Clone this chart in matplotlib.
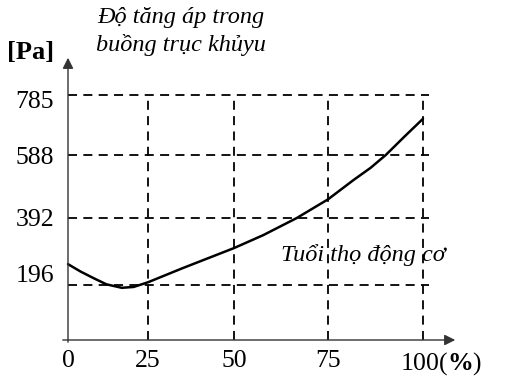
import numpy as np
import matplotlib.pyplot as plt
from matplotlib.transforms import ScaledTranslation

# engine life (%) vs crankcase pressure rise (Pa)
life = [0, 4, 8, 12, 16.8, 20.5, 25, 35, 50, 57.8, 66.7, 75, 81.7, 86.2, 90.2, 95, 100]
pressure = [257, 235, 216, 198, 186, 189, 204, 245, 304, 342, 392, 450, 510, 548, 588, 647, 707]

x_ticks = [0, 25, 50, 75, 100]
x_labels = ['0', '25', '50', '75', r'100($\mathbf{\%}$)']
y_ticks = [196, 392, 588, 785]
y_labels = ['196', '392', '588', '785']


# the hand-drawn axes are not evenly spaced, so map values through a piecewise scale
def piecewise(vals, pos):
        vals = np.asarray(vals, float)
        pos = np.asarray(pos, float)

        def f(v):
                v = np.asarray(v, float)
                out = np.interp(v, vals, pos)
                lo = pos[0] + (v - vals[0]) * (pos[1] - pos[0]) / (vals[1] - vals[0])
                hi = pos[-1] + (v - vals[-1]) * (pos[-1] - pos[-2]) / (vals[-1] - vals[-2])
                out = np.where(v < vals[0], lo, out)
                out = np.where(v > vals[-1], hi, out)
                return out
        return f


x_fwd = piecewise([0, 25, 50, 75, 100], [68, 148, 234, 328, 423])
x_inv = piecewise([68, 148, 234, 328, 423], [0, 25, 50, 75, 100])
y_fwd = piecewise([0, 196, 392, 588, 785], [39, 94, 161, 224, 284])
y_inv = piecewise([39, 94, 161, 224, 284], [0, 196, 392, 588, 785])

plt.rcParams['font.family'] = ['Liberation Serif', 'DejaVu Serif']
plt.rcParams['mathtext.fontset'] = 'custom'
plt.rcParams['mathtext.rm'] = 'Liberation Serif'
plt.rcParams['mathtext.bf'] = 'Liberation Serif:bold'

fig = plt.figure(figsize=(5.08, 3.79), dpi=100)
ax = fig.add_axes([0, 0, 1, 1])
ax.set_xscale('function', functions=(x_fwd, x_inv))
ax.set_yscale('function', functions=(y_fwd, y_inv))
ax.set_xlim(float(x_inv(0)), float(x_inv(508)))
ax.set_ylim(float(y_inv(0)), float(y_inv(379)))
for s in ax.spines.values():
        s.set_visible(False)

dash = dict(color='black', lw=1.3, ls=(0, (5, 3.5)))
for y in y_ticks:
        ax.plot([0, 101.5], [y, y], **dash)
for x in x_ticks[1:]:
        ax.plot([x, x], [0, 785], **dash)

ax.plot(life, pressure, color='black', lw=1.8, solid_capstyle='round', solid_joinstyle='round')

# axes with arrow heads
ax.annotate('', xy=(float(x_inv(458)), 0), xytext=(float(x_inv(60)), 0),
            arrowprops=dict(arrowstyle='-|>', color='#333333', lw=1.0, mutation_scale=16))
ax.annotate('', xy=(0, float(y_inv(379 - 55))), xytext=(0, float(y_inv(379 - 345))),
            arrowprops=dict(arrowstyle='-|>', color='#333333', lw=1.0, mutation_scale=16))

ax.set_xticks(x_ticks, x_labels)
ax.set_yticks(y_ticks, y_labels)
ax.tick_params(length=0, labelsize=18.5)
ax.tick_params(axis='y', pad=-39)
ax.tick_params(axis='x', pad=-21)
ax.minorticks_off()
xl = ax.get_xticklabels()
xl[-1].set_transform(xl[-1].get_transform() + ScaledTranslation(0.18, 0, fig.dpi_scale_trans))
yl = ax.get_yticklabels()
yl[0].set_transform(yl[0].get_transform() + ScaledTranslation(0, 0.12, fig.dpi_scale_trans))
yl[-1].set_transform(yl[-1].get_transform() + ScaledTranslation(0, -0.05, fig.dpi_scale_trans))

ax.text(float(x_inv(31)), float(y_inv(379 - 52)), '[Pa]', fontsize=19, fontweight='bold',
        ha='center', va='center')
ax.text(float(x_inv(181)), float(y_inv(379 - 18)), 'Độ tăng áp trong', fontsize=17.5,
        style='italic', ha='center', va='center')
ax.text(float(x_inv(181)), float(y_inv(379 - 45)), 'buồng trục khủyu', fontsize=17.5,
        style='italic', ha='center', va='center')
ax.text(float(x_inv(363)), float(y_inv(379 - 255)), 'Tuổi thọ động cơ', fontsize=17.5,
        style='italic', ha='center', va='center')

fig.savefig('out.png', dpi=100)
